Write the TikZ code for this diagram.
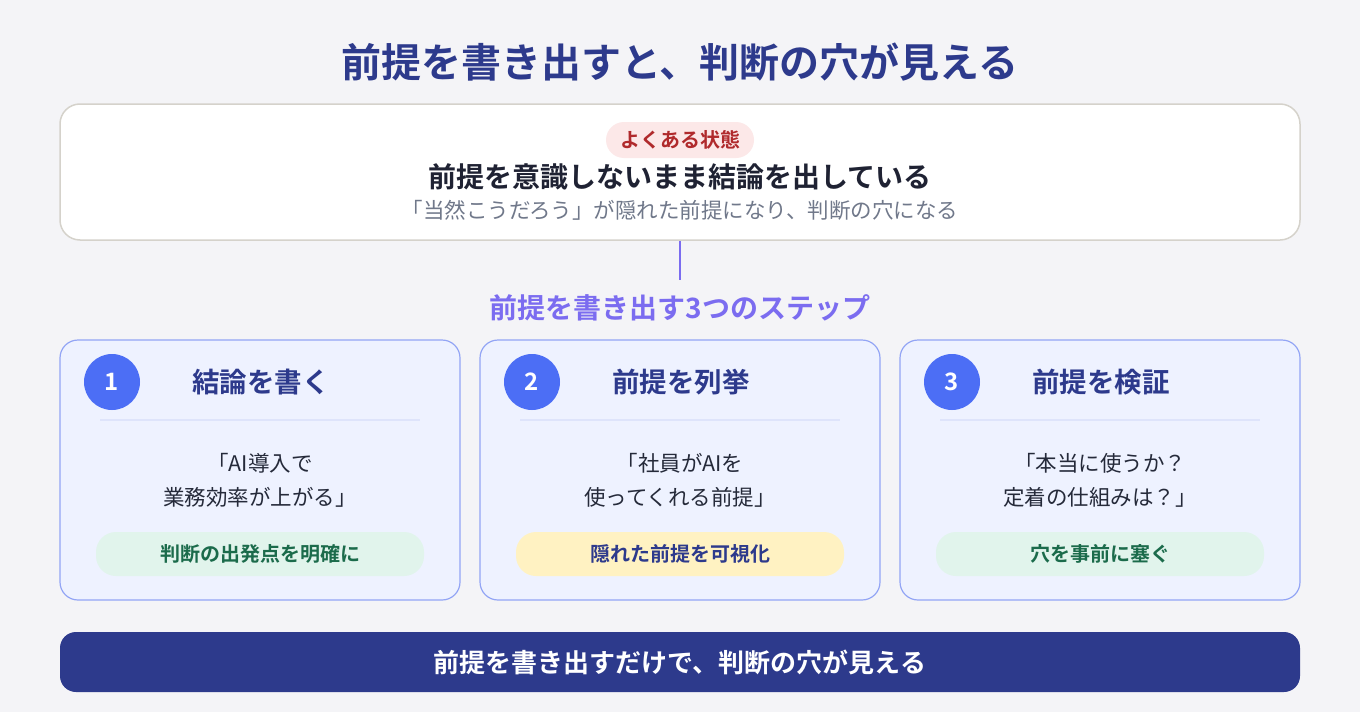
\documentclass[tikz,border=0pt]{standalone}
\usepackage{fontspec}
\setmainfont{Noto Sans CJK JP}[BoldFont={* Bold}]
\usetikzlibrary{positioning}
\definecolor{pagebg}{HTML}{F4F4F7}
\definecolor{navy}{HTML}{2D3A8C}
\definecolor{topline}{HTML}{D5D2CB}
\definecolor{badgebg}{HTML}{FCE8E8}
\definecolor{badgetext}{HTML}{B02A2C}
\definecolor{maintext}{HTML}{1F2233}
\definecolor{subtext}{HTML}{70788A}
\definecolor{violet}{HTML}{7B6CF0}
\definecolor{cardbg}{HTML}{EEF2FF}
\definecolor{cardline}{HTML}{93A5F5}
\definecolor{numbg}{HTML}{4C6EF5}
\definecolor{sepline}{HTML}{DEE4FB}
\definecolor{bodytext}{HTML}{252A3A}
\definecolor{greenbg}{HTML}{E1F4EC}
\definecolor{greentext}{HTML}{1B6B4B}
\definecolor{yellowbg}{HTML}{FFF2C2}
\newcommand{\fs}[1]{\fontsize{#1}{#1}\selectfont}

\begin{document}
\begin{tikzpicture}[x=1pt,y=-1pt,
  card/.style={draw=cardline, fill=cardbg, line width=1.2pt, rounded corners=18pt, minimum width=400pt, minimum height=260pt},
  numdot/.style={circle, fill=numbg, text=white, minimum size=56pt, inner sep=0pt, font=\fs{24}\bfseries},
  cardhead/.style={text=navy, font=\fs{27.5}\bfseries},
  cardbody/.style={text=bodytext, align=center, font=\fontsize{21.5}{34}\selectfont},
  pill/.style={rounded corners=20pt, minimum width=328pt, minimum height=44pt, inner sep=0pt, font=\fs{20}\bfseries}]
\fill[pagebg] (0,0) rectangle (1360,712);
\node[text=navy, font=\fs{40}\bfseries] (title) at (680,62) {前提を書き出すと、判断の穴が見える};
\node[draw=topline, fill=white, line width=1.5pt, rounded corners=20pt, minimum width=1240pt, minimum height=136pt] (top) at (680,172) {};
\node[fill=badgebg, text=badgetext, rounded corners=18pt, minimum width=148pt, minimum height=36pt, inner sep=0pt, font=\fs{20}\bfseries] (badge) at (680,140) {よくある状態};
\node[text=maintext, font=\fs{28}\bfseries] (state) at (680,177) {前提を意識しないまま結論を出している};
\node[text=subtext, font=\fs{21.5}] (cause) at (680,210) {「当然こうだろう」が隠れた前提になり、判断の穴になる};
\coordinate (drop) at (680,280);
\draw[violet, line width=2.5pt] (top.south) -- (drop);
\node[text=violet, font=\fs{28}\bfseries] (steps) at (680,308) {前提を書き出す3つのステップ};

\node[card] (c1) at (260,470) {};
\node[numdot] (n1) at (112,382) {1};
\node[cardhead] (h1) at (261,382) {結論を書く};
\draw[sepline, line width=1.5pt] (100,420) -- (420,420);
\node[cardbody] (b1) at (260,480) {「AI導入で\\業務効率が上がる」};
\node[pill, fill=greenbg, text=greentext] (p1) at (260,554) {判断の出発点を明確に};

\node[card] (c2) at (680,470) {};
\node[numdot] (n2) at (532,382) {2};
\node[cardhead] (h2) at (681,382) {前提を列挙};
\draw[sepline, line width=1.5pt] (520,420) -- (840,420);
\node[cardbody] (b2) at (680,480) {「社員がAIを\\使ってくれる前提」};
\node[pill, fill=yellowbg, text=navy] (p2) at (680,554) {隠れた前提を可視化};

\node[card] (c3) at (1100,470) {};
\node[numdot] (n3) at (952,382) {3};
\node[cardhead] (h3) at (1101,382) {前提を検証};
\draw[sepline, line width=1.5pt] (940,420) -- (1260,420);
\node[cardbody] (b3) at (1100,480) {「本当に使うか？\\定着の仕組みは？」};
\node[pill, fill=greenbg, text=greentext] (p3) at (1100,554) {穴を事前に塞ぐ};

\node[fill=navy, text=white, rounded corners=16pt, minimum width=1240pt, minimum height=60pt, font=\fs{26}\bfseries] (bar) at (680,662) {前提を書き出すだけで、判断の穴が見える};
\end{tikzpicture}
\end{document}
